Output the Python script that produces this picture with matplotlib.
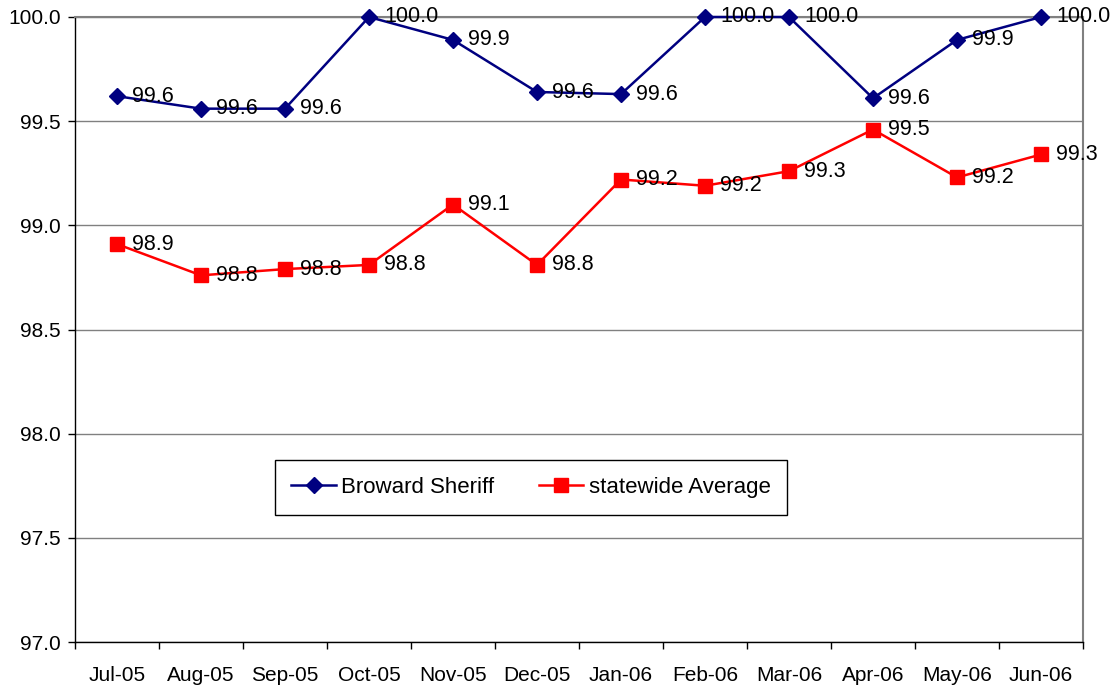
import matplotlib.pyplot as plt
import numpy as np

plt.rcParams['font.family'] = ['Liberation Sans', 'DejaVu Sans']

# months on the x axis
months = ["Jul-05", "Aug-05", "Sep-05", "Oct-05", "Nov-05", "Dec-05",
          "Jan-06", "Feb-06", "Mar-06", "Apr-06", "May-06", "Jun-06"]

# values
broward = [99.62, 99.56, 99.56, 100.0, 99.89, 99.64,
           99.63, 100.0, 100.0, 99.61, 99.89, 100.0]
statewide = [98.91, 98.76, 98.79, 98.81, 99.10, 98.81,
             99.22, 99.19, 99.26, 99.46, 99.23, 99.34]

fig = plt.figure(figsize=(11.19, 6.87), dpi=100)
ax = fig.add_axes([75 / 1119, 1 - 642 / 687, 1008 / 1119, 625 / 687])

x = np.arange(len(months))
ax.plot(x, broward, color="#000080", lw=1.8, marker="D", markersize=8,
        label="Broward Sheriff", zorder=3, clip_on=False)
ax.plot(x, statewide, color="#FF0000", lw=1.8, marker="s", markersize=9.5,
        label="statewide Average", zorder=3, clip_on=False)

# data labels to the right of each point
for xi, v in zip(x, broward):
    ax.annotate(f"{v:.1f}", (xi, v), xytext=(11, 0), textcoords="offset points",
                va="center", ha="left", fontsize=15.5, zorder=4, annotation_clip=False)
for xi, v in zip(x, statewide):
    ax.annotate(f"{v:.1f}", (xi, v), xytext=(11, 0), textcoords="offset points",
                va="center", ha="left", fontsize=15.5, zorder=4, annotation_clip=False)

ax.set_xlim(-0.5, len(months) - 0.5)
ax.set_ylim(97.0, 100.0)
ax.set_yticks(np.arange(97.0, 100.01, 0.5))
ax.set_yticklabels([f"{t:.1f}" for t in np.arange(97.0, 100.01, 0.5)])
ax.yaxis.grid(True, color="#808080", lw=1)
ax.set_axisbelow(True)

ax.set_xticks(x)
ax.set_xticklabels(months)
ax.set_xticks(np.arange(-0.5, len(months), 1), minor=True)
ax.tick_params(axis="x", which="major", length=0, pad=17, labelsize=15)
ax.tick_params(axis="x", which="minor", length=5, width=1, direction="out")
ax.tick_params(axis="y", length=5, width=1, direction="out", pad=5, labelsize=15)

for side in ["top", "right"]:
    ax.spines[side].set_color("#808080")
    ax.spines[side].set_linewidth(1.5)
for side in ["left", "bottom"]:
    ax.spines[side].set_color("black")
    ax.spines[side].set_linewidth(1)

leg = ax.legend(loc="center", bbox_to_anchor=(531 / 1119, 1 - 487.5 / 687),
                bbox_transform=fig.transFigure, ncol=2, fontsize=16,
                fancybox=False, framealpha=1, edgecolor="black",
                handlelength=2.0, handletextpad=0.25, columnspacing=2.0,
                borderpad=0.75, borderaxespad=0)
leg.get_frame().set_linewidth(1)

fig.savefig("out.png", dpi=100)
